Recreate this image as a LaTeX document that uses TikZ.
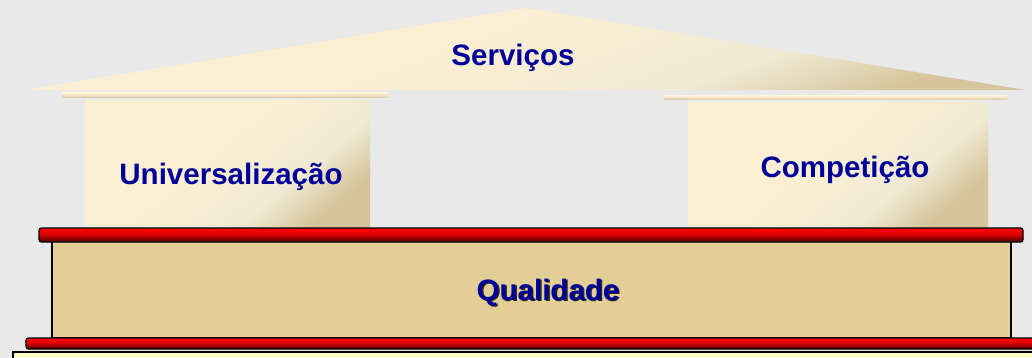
\documentclass[tikz,border=0pt]{standalone}
\usepackage{fontspec}
\setmainfont{Liberation Sans}
\usepackage{tikz}
\usetikzlibrary{positioning}
\definecolor{bgray}{HTML}{E9E9E9}
\definecolor{navy}{HTML}{000099}
\definecolor{cream}{HTML}{FCEFD3}
\definecolor{creammd}{HTML}{F0EAD3}
\definecolor{creamdk}{HTML}{D6C59C}
\definecolor{sand}{HTML}{E3CF96}
\definecolor{paleyel}{HTML}{FFFFCC}
\definecolor{redlt}{HTML}{FF0000}
\definecolor{redmd}{HTML}{D00000}
\definecolor{reddk}{HTML}{4A0000}
\pgfdeclareverticalshading{creamsh}{100bp}{color(0bp)=(creamdk); color(25bp)=(creamdk);
  color(36bp)=(creammd); color(55bp)=(cream); color(100bp)=(cream)}
\pgfdeclareverticalshading{redsh}{100bp}{color(0bp)=(reddk); color(25bp)=(reddk);
  color(50bp)=(redmd); color(70bp)=(redlt); color(100bp)=(redlt)}
\tikzset{
  lbl/.style    ={font=\fontsize{16.8}{20}\selectfont\bfseries,text=navy,inner sep=0pt,anchor=base},
  shd/.style    ={font=\fontsize{16.8}{20}\selectfont\bfseries,text=black!85,inner sep=0pt,anchor=base},
  roofsh/.style ={shading=creamsh,shading angle=20},
  pillar/.style ={shading=creamsh,shading angle=40},
  beam/.style   ={top color=cream,bottom color=creamdk!90},
  redbar/.style ={draw=black,line width=0.8pt,rounded corners=1.5pt,shading=redsh},
  plank/.style  ={draw=black,line width=0.8pt},
}
\begin{document}
\begin{tikzpicture}[x=0.02cm,y=-0.02cm]
  \useasboundingbox (0,0) rectangle (1032,358);
  \clip (0,0) rectangle (1032,358);
  \fill[bgray] (0,0) rectangle (1032,358);
  % roof
  \shade[roofsh] (25,90) -- (527,8) -- (1025,90) -- cycle;
  \shade[beam] (62,93) rectangle (388,98);
  \shade[beam] (664,96) rectangle (1007,100);
  % pillars
  \shade[pillar] (85,101) rectangle (370,228);
  \shade[pillar] (688,103) rectangle (988,228);
  % base
  \filldraw[plank,fill=sand] (52,236) rectangle (1011,338);
  \shade[redbar,draw] (39,228) rectangle (1023,242);
  \shade[redbar,draw] (26,338) rectangle (1045,349);
  \filldraw[plank,fill=paleyel] (13,352) rectangle (1045,375);
  % labels
  \node[lbl] (serv) at (513,66) {Serviços};
  \node[lbl] (univ) at (231,185) {Universalização};
  \node[lbl] (comp) at (845,177) {Competição};
  \node[shd] (qshd) at (549.5,301.5) {Qualidade};
  \node[lbl] (qual) at (548,300) {Qualidade};
\end{tikzpicture}
\end{document}
